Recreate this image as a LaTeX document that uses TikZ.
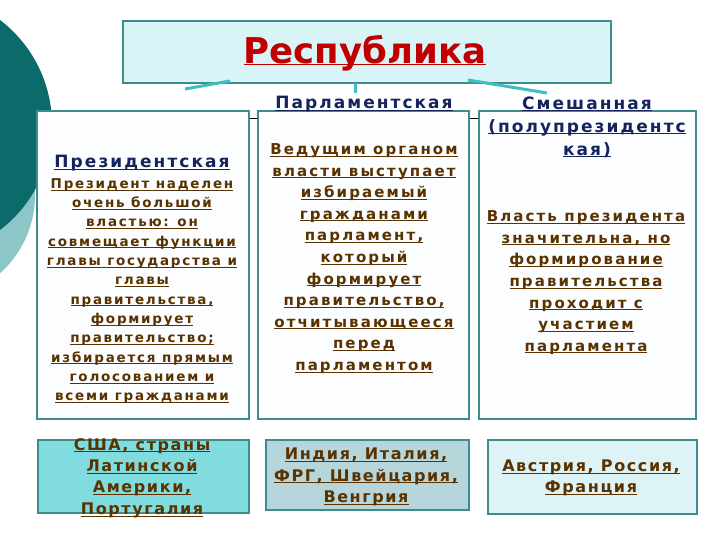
\documentclass[tikz,border=0pt]{standalone}
\usepackage{fontspec}
\setmainfont{DejaVu Sans}
\newfontfamily\hdfont{DejaVu Sans}[LetterSpace=12]
\newfontfamily\bdfont{DejaVu Sans}[LetterSpace=14]
\newfontfamily\bofont{DejaVu Sans}[LetterSpace=13]
\newfontfamily\btfont{DejaVu Sans}[LetterSpace=10]
\newcommand\ul[1]{\leavevmode\setbox0\hbox{#1}\rlap{\rule[-2.2pt]{\wd0}{1pt}}\box0}
\definecolor{bord}{HTML}{3E8C8C}
\definecolor{dteal}{HTML}{0B6A6A}
\definecolor{lteal}{HTML}{8CC6C6}
\definecolor{tfill}{HTML}{D8F4F6}
\definecolor{conn}{HTML}{3CBFC4}
\definecolor{navy}{HTML}{14245E}
\definecolor{brown}{HTML}{5A3200}
\definecolor{tred}{HTML}{C00000}
\definecolor{colfill}{HTML}{FBFDFE}
\definecolor{fa}{HTML}{80DCDE}
\definecolor{fb}{HTML}{B6D6DC}
\definecolor{fc}{HTML}{DDF3F5}
\tikzset{
  box/.style={draw=bord, line width=1.8pt, inner sep=0pt},
  hdr/.style={text=navy, align=center, font=\hdfont\bfseries\fontsize{17}{23}\selectfont},
  body/.style={text=brown, align=center, font=\bdfont\bfseries\fontsize{15}{21.6}\selectfont},
  bodyone/.style={text=brown, align=center, font=\bofont\bfseries\fontsize{13.5}{19.3}\selectfont},
  bot/.style={text=brown, align=center, font=\btfont\bfseries\fontsize{16}{21.4}\selectfont},
  cn/.style={draw=conn, line width=3pt}
}
\begin{document}
\begin{tikzpicture}[x=1pt,y=-1pt]
\useasboundingbox (0,0) rectangle (720,540);
\fill[white] (0,0) rectangle (720,540);
% background discs
\begin{scope}
\clip (0,0) rectangle (720,540);
\fill[lteal] (-70,195) circle (105);
\fill[dteal] (-80,125) circle (132);
\end{scope}
% hidden line behind columns
\draw[black, line width=1pt] (240,119) -- (485,119);
% title
\node[box, fill=tfill, minimum width=488, minimum height=62, anchor=north west] (title) at (122,20) {};
\node[text=tred, font=\bfseries\fontsize{35.5}{40}\selectfont] (tt) at (365,53) {\ul{Республика}};
% connectors
\coordinate (c1a) at (185,89); \coordinate (c1b) at (230,81);
\coordinate (c2a) at (355,83); \coordinate (c2b) at (355,93);
\coordinate (c3a) at (468,80); \coordinate (c3b) at (547,93);
\draw[cn] (c1a) -- (c1b);
\draw[cn] (c2a) -- (c2b);
\draw[cn] (c3a) -- (c3b);
% columns
\node[box, fill=colfill, minimum width=212, minimum height=308, anchor=north west] (col1) at (36,110) {};
\node[box, fill=colfill, minimum width=211, minimum height=308, anchor=north west] (col2) at (257,110) {};
\node[box, fill=colfill, minimum width=217, minimum height=308, anchor=north west] (col3) at (478,110) {};
% headers
\node[hdr] (h1) at (142,163) {\ul{Президентская}};
\node[hdr] (h2) at (364,104) {\ul{Парламентская}};
\node[hdr] (h3) at (587,127) {\ul{Смешанная}\\\ul{(полупрезидентс}\\\ul{кая)}};
% bodies
\node[bodyone] (b1) at (142,291) {\ul{Президент наделен}\\\ul{очень большой}\\\ul{властью: он}\\\ul{совмещает функции}\\\ul{главы государства и}\\\ul{главы}\\\ul{правительства,}\\\ul{формирует}\\\ul{правительство;}\\\ul{избирается прямым}\\\ul{голосованием и}\\\ul{всеми гражданами}};
\node[body] (b2) at (364,258.5) {\ul{Ведущим органом}\\\ul{власти выступает}\\\ul{избираемый}\\\ul{гражданами}\\\ul{парламент,}\\\ul{который}\\\ul{формирует}\\\ul{правительство,}\\\ul{отчитывающееся}\\\ul{перед}\\\ul{парламентом}};
\node[body] (b3) at (586,282.5) {\ul{Власть президента}\\\ul{значительна, но}\\\ul{формирование}\\\ul{правительства}\\\ul{проходит с}\\\ul{участием}\\\ul{парламента}};
% bottom boxes
\node[box, fill=fa, minimum width=211, minimum height=73, anchor=north west] (e1) at (37,439) {};
\node[box, fill=fb, minimum width=203, minimum height=70, anchor=north west] (e2) at (265,439) {};
\node[box, fill=fc, minimum width=209, minimum height=74, anchor=north west] (e3) at (487,439) {};
\node[bot] (t1) at (142,478) {\ul{США, страны}\\\ul{Латинской}\\\ul{Америки,}\\\ul{Португалия}};
\node[bot] (t2) at (366,477) {\ul{Индия, Италия,}\\\ul{ФРГ, Швейцария,}\\\ul{Венгрия}};
\node[bot] (t3) at (591,478) {\ul{Австрия, Россия,}\\\ul{Франция}};
\end{tikzpicture}
\end{document}
